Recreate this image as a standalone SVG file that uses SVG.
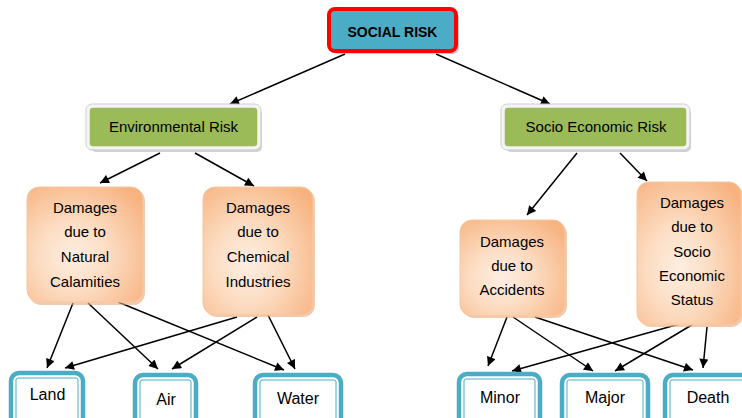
<svg xmlns="http://www.w3.org/2000/svg" width="742" height="418" viewBox="0 0 742 418">
<style>
text{font-family:"Liberation Sans",Arial,sans-serif;fill:#000;text-anchor:middle}
.t15{font-size:15px}
.t16{font-size:16px}
.conn line{stroke:#000;stroke-width:1.5;marker-end:url(#ah)}
.shadow{fill:#999;opacity:0.45}
.green{fill:#9BBB59;stroke:#f4f4f4;stroke-width:3.5}
.greenout{fill:none;stroke:#cfcfcf;stroke-width:1}
.orange{fill:url(#og);stroke:#F6C7A0;stroke-width:1}
.leafo{fill:#fff;stroke:#4BACC6;stroke-width:4.5}
.leafi{fill:#fff;stroke:#4BACC6;stroke-width:1}
</style>
<defs>
<marker id="ah" viewBox="0 0 10 10" refX="10" refY="5" markerWidth="10" markerHeight="9" markerUnits="userSpaceOnUse" orient="auto">
<path d="M0,0 L10,5 L0,10 z" fill="#000"/>
</marker>
<radialGradient id="og" cx="0.4" cy="0.6" r="0.75">
<stop offset="0" stop-color="#FDEEE2"/>
<stop offset="0.4" stop-color="#FCDDC3"/>
<stop offset="1" stop-color="#F7B27F"/>
</radialGradient>
</defs>
<rect width="742" height="418" fill="#fff"/>

<g class="conn">
<line x1="345" y1="54" x2="230" y2="104"/>
<line x1="436" y1="54" x2="550" y2="104"/>
<line x1="160" y1="153" x2="100" y2="183"/>
<line x1="195" y1="153" x2="254" y2="186"/>
<line x1="577" y1="153" x2="527" y2="215"/>
<line x1="620" y1="153" x2="647" y2="181"/>
<line x1="73" y1="303" x2="47" y2="368"/>
<line x1="88" y1="303" x2="158" y2="369"/>
<line x1="118" y1="302" x2="284" y2="370"/>
<line x1="237" y1="317" x2="65" y2="368"/>
<line x1="257" y1="317" x2="172" y2="369"/>
<line x1="268" y1="315" x2="295" y2="369"/>
<line x1="507" y1="317" x2="488" y2="366"/>
<line x1="513" y1="317" x2="593" y2="371"/>
<line x1="535" y1="317" x2="693" y2="370"/>
<line x1="683" y1="323" x2="512" y2="371"/>
<line x1="695" y1="323" x2="615" y2="371"/>
<line x1="707" y1="327" x2="703" y2="368"/>
</g>

<g id="social-risk">
<rect x="332" y="12" width="127" height="42" rx="6" class="shadow"/>
<rect x="329" y="9" width="127" height="42" rx="6" fill="#4BACC6" stroke="#FF0000" stroke-width="4"/>
<text x="392.5" y="37" font-size="14" font-weight="bold">SOCIAL RISK</text>
</g>

<g id="environmental-risk">
<rect x="91" y="109" width="171" height="43" rx="5" class="shadow"/>
<rect x="88" y="106" width="171" height="42" rx="5" class="green"/>
<rect x="86" y="104" width="175" height="46" rx="6" class="greenout"/>
<text x="173.5" y="132" class="t15">Environmental Risk</text>
</g>

<g id="socio-economic-risk">
<rect x="506" y="109" width="185" height="43" rx="5" class="shadow"/>
<rect x="503" y="106" width="185" height="42" rx="5" class="green"/>
<rect x="501" y="104" width="189" height="46" rx="6" class="greenout"/>
<text x="596" y="132" class="t15">Socio Economic Risk</text>
</g>

<g id="natural-calamities">
<rect x="29" y="189" width="116" height="116" rx="12" fill="#E9A878" opacity="0.6"/>
<rect x="27" y="187" width="116" height="115" rx="12" class="orange"/>
<text x="85" y="213" class="t15">Damages</text>
<text x="85" y="237" class="t15">due to</text>
<text x="85" y="262" class="t15">Natural</text>
<text x="85" y="287" class="t15">Calamities</text>
</g>

<g id="chemical-industries">
<rect x="205" y="189" width="110" height="128" rx="12" fill="#E9A878" opacity="0.6"/>
<rect x="203" y="187" width="110" height="128" rx="12" class="orange"/>
<text x="258" y="213" class="t15">Damages</text>
<text x="258" y="237" class="t15">due to</text>
<text x="258" y="262" class="t15">Chemical</text>
<text x="258" y="287" class="t15">Industries</text>
</g>

<g id="accidents">
<rect x="462" y="222" width="105" height="96" rx="12" fill="#E9A878" opacity="0.6"/>
<rect x="460" y="220" width="105" height="96" rx="12" class="orange"/>
<text x="512" y="247" class="t15">Damages</text>
<text x="512" y="271" class="t15">due to</text>
<text x="512" y="295" class="t15">Accidents</text>
</g>

<g id="socio-economic-status">
<rect x="639" y="184" width="104" height="143" rx="12" fill="#E9A878" opacity="0.6"/>
<rect x="637" y="182" width="104" height="143" rx="12" class="orange"/>
<text x="692" y="208" class="t15">Damages</text>
<text x="692" y="232" class="t15">due to</text>
<text x="692" y="257" class="t15">Socio</text>
<text x="692" y="281" class="t15">Economic</text>
<text x="692" y="305" class="t15">Status</text>
</g>

<g id="land">
<rect x="11" y="373" width="72" height="55" rx="8" class="leafo"/>
<rect x="16" y="378" width="62" height="45" rx="2" class="leafi"/>
<text x="47.5" y="400" class="t16">Land</text>
</g>
<g id="air">
<rect x="135" y="375" width="61" height="55" rx="8" class="leafo"/>
<rect x="140" y="380" width="51" height="45" rx="2" class="leafi"/>
<text x="166" y="405" class="t16">Air</text>
</g>
<g id="water">
<rect x="255" y="375" width="86" height="55" rx="8" class="leafo"/>
<rect x="260" y="380" width="76" height="45" rx="2" class="leafi"/>
<text x="298" y="404" class="t16">Water</text>
</g>
<g id="minor">
<rect x="459" y="374" width="81" height="55" rx="8" class="leafo"/>
<rect x="464" y="379" width="71" height="45" rx="2" class="leafi"/>
<text x="500" y="403" class="t16">Minor</text>
</g>
<g id="major">
<rect x="562" y="375" width="86" height="55" rx="8" class="leafo"/>
<rect x="567" y="380" width="76" height="45" rx="2" class="leafi"/>
<text x="605" y="403" class="t16">Major</text>
</g>
<g id="death">
<rect x="665" y="375" width="90" height="55" rx="8" class="leafo"/>
<rect x="670" y="380" width="80" height="45" rx="2" class="leafi"/>
<text x="708" y="403" class="t16">Death</text>
</g>
</svg>
